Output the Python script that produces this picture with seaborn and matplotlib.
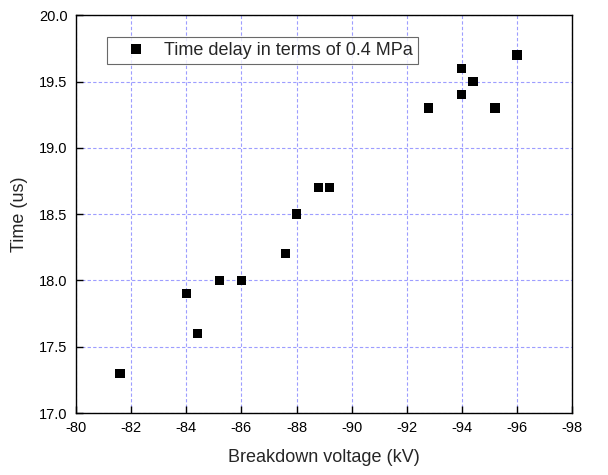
import matplotlib
matplotlib.use("Agg")
import matplotlib.pyplot as plt
import seaborn as sns
import pandas as pd

voltage = [-81.6, -84.0, -84.4, -85.2, -86.0, -87.6, -88.0, -88.8, -89.2,
           -92.8, -94.0, -94.0, -94.4, -95.2, -96.0]
time_us = [17.3, 17.9, 17.6, 18.0, 18.0, 18.2, 18.5, 18.7, 18.7,
           19.3, 19.6, 19.4, 19.5, 19.3, 19.7]
series_label = "Time delay in terms of 0.4 MPa"
x_ticks = [-80, -82, -84, -86, -88, -90, -92, -94, -96, -98]
y_ticks = [17.0, 17.5, 18.0, 18.5, 19.0, 19.5, 20.0]

sns.set_style("white")
plt.rcParams['font.family'] = ['Liberation Sans', 'DejaVu Sans']

df = pd.DataFrame({"V": voltage, "T": time_us, "s": series_label})

fig = plt.figure(figsize=(6.08, 4.75), dpi=100)
ax = fig.add_axes([0.125, 0.1305, 0.816, 0.8375])

sns.scatterplot(data=df, x="V", y="T", hue="s", palette=["black"], marker="s",
                s=44, edgecolor="black", linewidth=0, ax=ax, zorder=3)

ax.set_xlim(-80, -98)
ax.set_ylim(17.0, 20.0)
ax.set_xticks(x_ticks)
ax.set_xticklabels([str(v) for v in x_ticks])
ax.set_yticks(y_ticks)
ax.set_yticklabels([f"{v:.1f}" for v in y_ticks])
ax.grid(True, color="#9d9dff", linestyle=(0, (3, 2)), linewidth=0.8)
ax.set_axisbelow(True)
for sp in ax.spines.values():
    sp.set_color("black")
    sp.set_linewidth(1.0)
ax.tick_params(direction="in", length=5, width=1, labelsize=10.5, colors="black",
               bottom=True, left=True, top=False, right=False, pad=6)
ax.set_xlabel("Breakdown voltage (kV)", fontsize=13, labelpad=10)
ax.set_ylabel("Time (us)", fontsize=13, labelpad=8)

leg = ax.legend(loc="upper left", bbox_to_anchor=(0.0625, 0.945), fontsize=13,
                frameon=True, fancybox=False, edgecolor="#444444",
                handlelength=2.7, handletextpad=0.2, borderpad=0.28,
                borderaxespad=0, markerscale=1.0)
leg.get_frame().set_linewidth(0.8)

fig.savefig("out.png", dpi=100)
